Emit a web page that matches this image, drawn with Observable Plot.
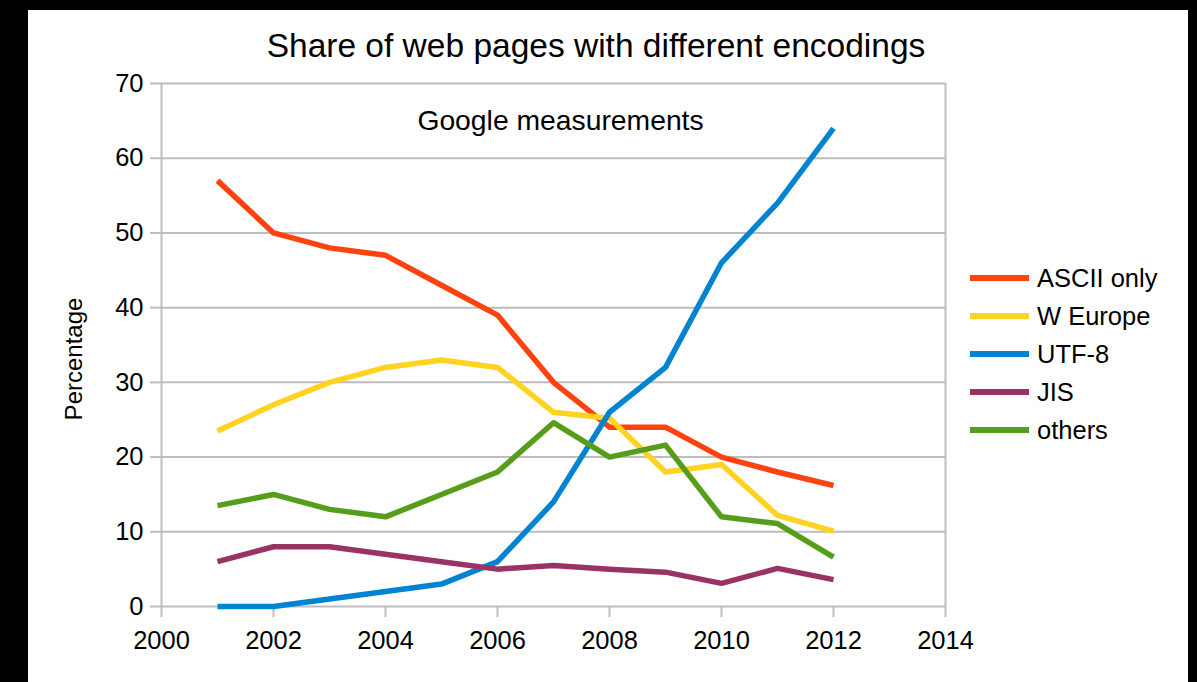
<!DOCTYPE html>
<html>
<head>
<meta charset="utf-8">
<script src="https://cdn.jsdelivr.net/npm/d3@7"></script>
<script src="https://cdn.jsdelivr.net/npm/@observablehq/plot@0.6"></script>
<style>
  html, body { margin: 0; padding: 0; background: #000; width: 1197px; height: 682px; overflow: hidden;
    font-family: "Liberation Sans", Arial, Helvetica, sans-serif; }
  #panel { position: absolute; left: 28px; top: 10px; width: 1160px; height: 672px; background: #fff; }
  #title { position: absolute; left: 0; top: 19px; width: 1136px; text-align: center; font-size: 33.5px; line-height: 33px; color: #000; white-space: nowrap; }
  #chart { position: absolute; left: 0; top: 60px; }
  #legend { position: absolute; left: 942px; top: 249px; }
  .row { display: flex; align-items: center; height: 38px; font-size: 25.5px; color: #000; white-space: nowrap; }
  .sw { width: 59px; height: 6px; margin-right: 8px; }
</style>
</head>
<body>
<div id="panel">
  <div id="title">Share of web pages with different encodings</div>
  <div id="chart"></div>
  <div id="legend"></div>
</div>
<script>
// ---- data ----
const years = [2001, 2002, 2003, 2004, 2005, 2006, 2007, 2008, 2009, 2010, 2011, 2012];
const asciiOnly = [57, 50, 48, 47, 43, 39, 30, 24, 24, 20, 18, 16.2];
const wEurope   = [23.5, 27, 30, 32, 33, 32, 26, 25.2, 18, 19, 12.2, 10.1];
const utf8      = [0, 0, 1, 2, 3, 6, 14, 26, 32, 46, 54, 64];
const jis       = [6, 8, 8, 7, 6, 5, 5.5, 5, 4.6, 3.1, 5.1, 3.6];
const others    = [13.5, 15, 13, 12, 15, 18, 24.6, 20, 21.6, 12, 11.1, 6.6];

const seriesNames  = ["ASCII only", "W Europe", "UTF-8", "JIS", "others"];
const seriesValues = [asciiOnly, wEurope, utf8, jis, others];
const seriesColors = ["#ff420e", "#ffd320", "#0084d1", "#993366", "#579d1c"];

const xTicks = [2000, 2002, 2004, 2006, 2008, 2010, 2012, 2014];
const yTicks = [0, 10, 20, 30, 40, 50, 60, 70];

const titleText = "Share of web pages with different encodings";
const subtitleText = "Google measurements";
const yLabel = "Percentage";

// ---- build table ----
const rows = [];
seriesNames.forEach((name, i) => {
  years.forEach((yr, j) => rows.push({ series: name, year: yr, value: seriesValues[i][j] }));
});

const gridColor = "#bdbdbd";

const chart = Plot.plot({
  width: 1160,
  height: 612,
  marginLeft: 133,
  marginRight: 243,
  marginTop: 13,
  marginBottom: 76,
  style: { fontFamily: "'Liberation Sans', Arial, Helvetica, sans-serif", background: "transparent", color: "#000", overflow: "visible" },
  x: { domain: [2000, 2014] },
  y: { domain: [0, 70] },
  color: { domain: seriesNames, range: seriesColors },
  marks: [
    Plot.gridY(yTicks, { stroke: gridColor, strokeOpacity: 1, strokeWidth: 2 }),
    Plot.ruleX([xTicks[0], xTicks[xTicks.length - 1]], { stroke: gridColor, strokeWidth: 2 }),
    Plot.axisX(xTicks, { tickSize: 11, tickPadding: 13, stroke: gridColor, strokeWidth: 2, fill: "#000", fontSize: 25.5, tickFormat: d => String(d), label: null }),
    Plot.axisY(yTicks, { tickSize: 11, tickPadding: 7, stroke: gridColor, strokeWidth: 2, fill: "#000", fontSize: 25.5, label: null }),
    Plot.line(rows, { x: "year", y: "value", z: "series", stroke: "series", strokeWidth: 5.5, strokeLinejoin: "round", strokeLinecap: "butt" }),
    Plot.text([subtitleText], { text: d => d, frameAnchor: "top", dx: 7, dy: 26, fontSize: 28.3, fill: "#000" }),
    Plot.text([yLabel], { text: d => d, frameAnchor: "left", textAnchor: "middle", dx: -87, dy: 14, rotate: -90, fontSize: 24, fill: "#000" })
  ]
});
document.getElementById("chart").appendChild(chart);

// ---- legend ----
const legend = document.getElementById("legend");
seriesNames.forEach((name, i) => {
  const row = document.createElement("div");
  row.className = "row";
  const sw = document.createElement("div");
  sw.className = "sw";
  sw.style.background = seriesColors[i];
  const label = document.createElement("span");
  label.textContent = name;
  row.appendChild(sw);
  row.appendChild(label);
  legend.appendChild(row);
});
document.getElementById("title").textContent = titleText;
</script>
</body>
</html>
